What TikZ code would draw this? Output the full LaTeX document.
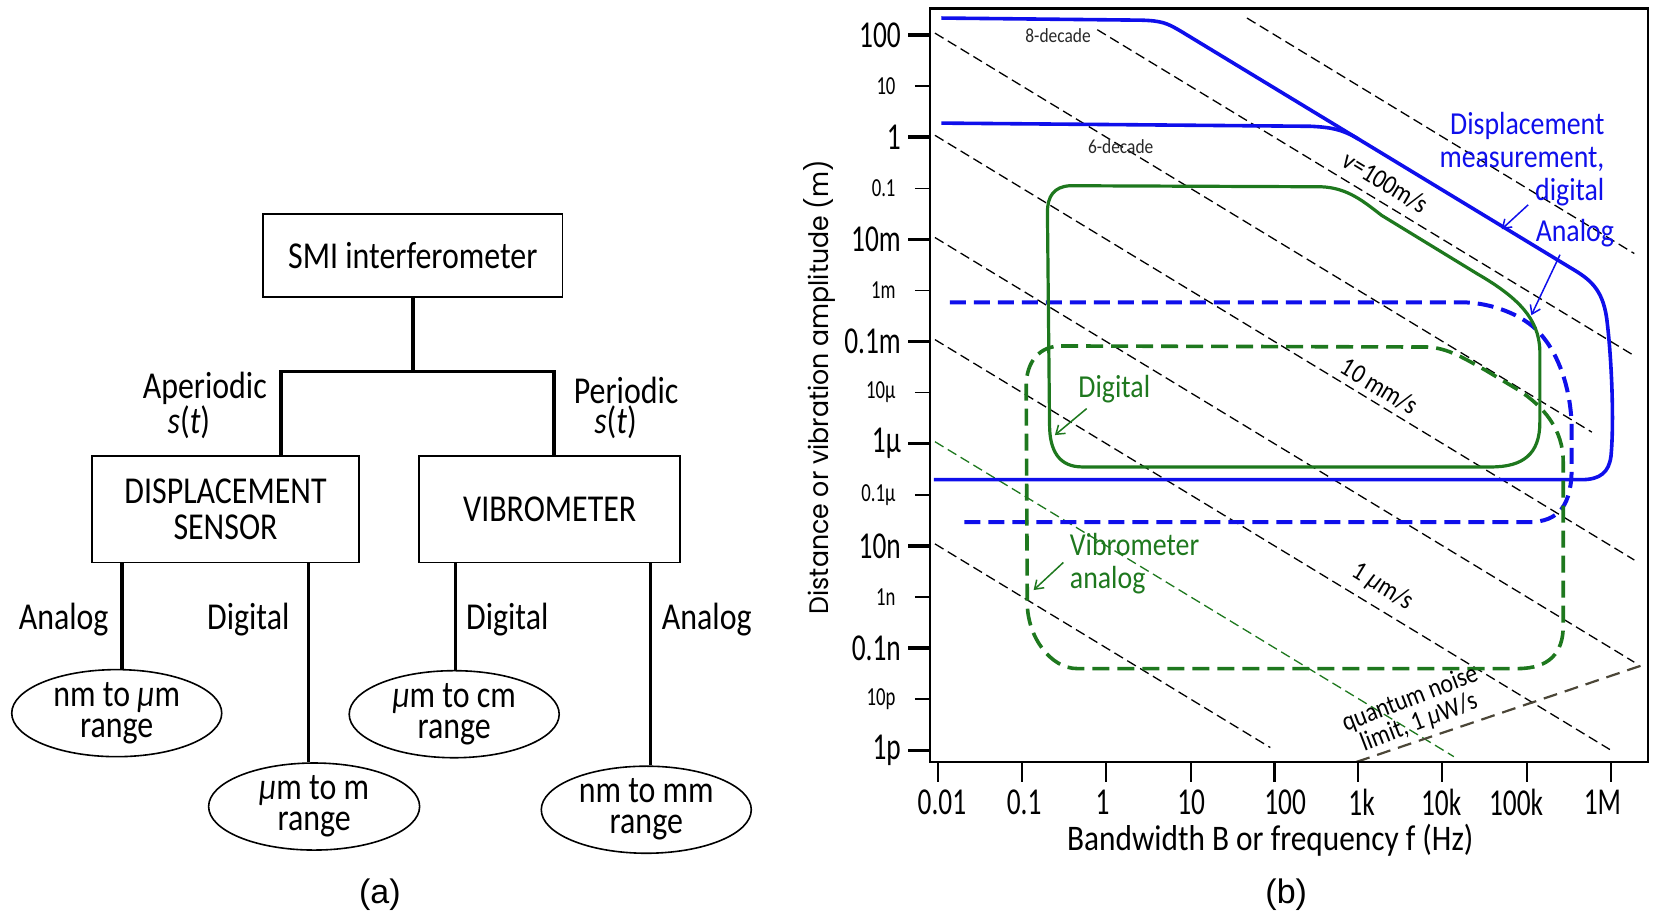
\documentclass[tikz,border=0pt]{standalone}
\usepackage{fontspec}
\usepackage{graphicx}
\usetikzlibrary{arrows.meta,shapes.geometric}
\newfontfamily\fcal[FakeStretch=0.87]{Carlito}
\newfontfamily\fcalt[FakeStretch=0.84]{Carlito}
\newfontfamily\fcalc[FakeStretch=0.72]{Carlito}
\newfontfamily\fpop{Poppins}
\newfontfamily\fari{Liberation Sans}
\definecolor{pblue}{RGB}{15,15,235}
\definecolor{pgreen}{RGB}{30,120,30}
\definecolor{qline}{RGB}{75,70,55}
\definecolor{dtxt}{RGB}{40,40,40}
\tikzset{
  box/.style={draw, line width=1.8pt, rectangle, inner sep=0pt, align=center,
    font=\fcalt\fontsize{38}{36}\selectfont},
  oval/.style={draw, line width=1.6pt, ellipse, inner sep=0pt, align=center,
    font=\fcalt\fontsize{38}{31}\selectfont},
  lab/.style={inner sep=0pt, align=center, font=\fcalt\fontsize{38}{34}\selectfont},
  trunk/.style={line width=3.6pt},
  leg/.style={line width=3.2pt},
  vline/.style={black, line width=1.3pt, dash pattern=on 10pt off 5pt},
  gthin/.style={pgreen, line width=1.3pt, dash pattern=on 10pt off 5pt},
  qdash/.style={qline, line width=2.2pt, dash pattern=on 14pt off 8pt},
  bsolid/.style={pblue, line width=3.6pt, line join=round},
  bdash/.style={pblue, line width=4pt, dash pattern=on 16pt off 8pt},
  gsolid/.style={pgreen, line width=3.2pt, line join=round},
  gdash/.style={pgreen, line width=3.6pt, dash pattern=on 17pt off 8pt},
  arr/.style={-{Straight Barb[length=8pt,width=11pt]}, line width=1.5pt},
  majtick/.style={line width=3.5pt},
  mintick/.style={line width=1.5pt},
  majlab/.style={anchor=east, inner sep=0pt, font=\fcalc\fontsize{38}{38}\selectfont},
  minlab/.style={anchor=east, inner sep=0pt, font=\fcalc\fontsize{26}{26}\selectfont},
  xlab/.style={inner sep=0pt, font=\fcalc\fontsize{38}{38}\selectfont},
  plab/.style={inner sep=0pt, align=center, font=\fcal\fontsize{32}{33}\selectfont},
  slab/.style={inner sep=0pt, align=center, font=\fcal\fontsize{27}{27}\selectfont},
  dec/.style={inner sep=0pt, text=dtxt, font=\fcal\fontsize{20}{20}\selectfont},
}
\begin{document}
\begin{tikzpicture}[x=1.0612pt,y=-1.0612pt]
\useasboundingbox (0,0) rectangle (1568,862);

% ================= (a) tree =================
\node[box, minimum width=299.3pt, minimum height=82.8pt] (smi) at (389,241) {SMI interferometer};
\node[box, minimum width=266.4pt, minimum height=106.1pt] (disp) at (212.5,480) {DISPLACEMENT\\SENSOR};
\node[box, minimum width=261pt, minimum height=106.1pt] (vib) at (518,480) {VIBROMETER};
\node[oval, minimum width=210pt, minimum height=72pt] (e1) at (110,672) {nm to {\itshape μ}m\\range};
\node[oval, minimum width=211pt, minimum height=78.5pt] (e2) at (296,760) {{\itshape μ}m to m\\range};
\node[oval, minimum width=210pt, minimum height=74.3pt] (e3) at (428,673) {{\itshape μ}m to cm\\range};
\node[oval, minimum width=210pt, minimum height=76.4pt] (e4) at (609,763) {nm to mm\\range};

\coordinate (jl) at (265,350);
\coordinate (jr) at (522,350);
\draw[trunk] (smi.south) -- (smi.south |- jl);
\draw[trunk] (disp.north -| jl) -- (jl) -- (jr) -- (vib.north -| jr);

\coordinate (l1) at (115,600);
\coordinate (l2) at (291,600);
\coordinate (l3) at (429,600);
\coordinate (l4) at (613,600);
\draw[leg] (disp.south -| l1) -- (e1.north -| l1);
\draw[leg] (disp.south -| l2) -- (e2.north -| l2);
\draw[leg] (vib.south -| l3) -- (e3.north -| l3);
\draw[leg] (vib.south -| l4) -- (e4.north -| l4);

\node[lab] (ape) at (193,366) {Aperiodic};
\node[lab] (st1) at (178,398) {{\itshape s}({\itshape t})};
\node[lab] (per) at (590,368) {Periodic};
\node[lab] (st2) at (580,398) {{\itshape s}({\itshape t})};
\node[lab] (an1) at (60,584) {Analog};
\node[lab] (di1) at (234,584) {Digital};
\node[lab] (di2) at (478,584) {Digital};
\node[lab] (an2) at (666,584) {Analog};

\node[inner sep=0pt, font=\fari\fontsize{34}{34}\selectfont] (capa) at (358,843) {(a)};

% ================= (b) plot =================
% constant velocity lines
\draw[vline] (1175,17) -- (1540,238.9);
\draw[vline] (1034,28) -- (1538,334);
\draw[vline] (881,31.2) -- (1500,407.2);
\draw[vline] (881,127.5) -- (1540,527.7);
\draw[vline] (881,223.8) -- (1540,624);
\draw[vline] (881,320) -- (1517,706.3);
\draw[gthin] (881,416.2) -- (1370,713);
\draw[vline] (881,512.5) -- (1197,704.4);
% quantum noise limit
\draw[qdash] (1278,718) -- (1553,625);

% blue digital displacement curves
\draw[bsolid] (887,17) -- (1075,19) .. controls (1095,19.5) and (1100,22) .. (1112,29)
  -- (1480,252.4) .. controls (1498,263) and (1510,272) .. (1514,300)
  .. controls (1519,340) and (1521,400) .. (1518,430)
  .. controls (1516,445) and (1508,452) .. (1490,452) -- (880,452);
\draw[bsolid] (887,116) -- (1235,119) .. controls (1255,120) and (1265,122) .. (1280,131);
% blue analog (dashed)
\draw[bdash] (895,285) -- (1382,285) .. controls (1405,286) and (1435,296) .. (1451,314)
  .. controls (1470,335) and (1481,370) .. (1481,405) -- (1481,440)
  .. controls (1481,475) and (1470,492) .. (1440,492) -- (905,492);

% green digital vibrometer
\draw[gsolid] (1008,175) -- (1245,176) .. controls (1270,177) and (1285,190) .. (1302,203)
  -- (1392,258) .. controls (1430,280) and (1450,300) .. (1451,330)
  -- (1451,398) .. controls (1451,428) and (1435,440) .. (1405,440)
  -- (1020,440) .. controls (998,440) and (989,425) .. (989,400)
  -- (987,200) .. controls (987,185) and (993,176) .. (1008,175) -- cycle;
% green analog vibrometer (dashed)
\draw[gdash] (1000,326) -- (1345,327) .. controls (1365,328) and (1380,338) .. (1400,349)
  -- (1430,367) .. controls (1455,383) and (1473,405) .. (1473,435) -- (1473,590)
  .. controls (1473,615) and (1460,630) .. (1430,630) -- (1015,630)
  .. controls (990,630) and (968,600) .. (968,568) -- (967,364)
  .. controls (967,340) and (980,326) .. (1000,326);

% frame
\draw[line width=2.2pt] (876,8) rectangle (1553,718);

% y ticks
\foreach \i/\t in {0/100,2/1,4/10m,6/0.1m,8/1μ,10/10n,12/0.1n,14/1p}{
  \pgfmathsetmacro\yy{33+48.14*\i}
  \draw[majtick] (856,\yy) -- (876,\yy);
  \node[majlab] (ymaj\i) at (849,\yy) {\t};
}
\foreach \i/\t in {1/10,3/0.1,5/1m,7/10μ,9/0.1μ,11/1n,13/10p}{
  \pgfmathsetmacro\yy{33+48.14*\i}
  \draw[mintick] (862,\yy) -- (876,\yy);
  \node[minlab] (ymin\i) at (844,\yy) {\t};
}
% x ticks
\foreach \j/\xt/\xl/\t in {0/884/887.6/0.01,1/963/965/0.1,2/1042/1039/1,3/1122/1122.5/10,
  4/1201/1211/100,5/1280/1283/1k,6/1359/1358/10k,7/1439/1428.6/100k,8/1518/1510/1M}{
  \draw[line width=2.2pt] (\xt,718) -- (\xt,737);
  \node[xlab] (xl\j) at (\xl,756) {\t};
}

% axis labels
\node[rotate=90, inner sep=0pt] (ylab) at (772,365)
  {\resizebox{454pt}{25pt}{\fpop Distance or vibration amplitude (m)}};
\node[inner sep=0pt, font=\fcal\fontsize{36}{36}\selectfont] (xlabel) at (1197,792)
  {Bandwidth B or frequency f (Hz)};
\node[inner sep=0pt, font=\fari\fontsize{34}{34}\selectfont] (capb) at (1212,843) {(b)};

% curve annotations
\node[dec] (d8) at (997,34) {8-decade};
\node[dec] (d6) at (1056,138) {6-decade};
\node[slab, rotate=-31.3] (v100) at (1306,172) {v=100m/s};
\node[slab, rotate=-31.3] (v10) at (1300,364) {10 mm/s};
\node[slab, rotate=-31.3] (v1) at (1303,553) {1 {\itshape μ}m/s};
\node[inner sep=0pt, align=center, rotate=21, font=\fcal\fontsize{27}{25}\selectfont] (qn) at (1333,670)
  {quantum noise\\limit, 1 {\itshape μ}W/s};

\node[plab, text=pblue, align=right, anchor=east] (dmd) at (1512,150)
  {Displacement\\measurement,\\digital};
\node[plab, text=pblue] (ban) at (1484,220) {Analog};
\node[plab, text=pgreen] (gdi) at (1050,367) {Digital};
\node[plab, text=pgreen, align=left, anchor=west] (gva) at (1008,531) {Vibrometer\\analog};

\coordinate (ab1) at (1415,216);
\coordinate (ab2) at (1443,297);
\coordinate (ag1) at (994,410);
\coordinate (ag2) at (974,556);
\draw[arr, pblue] (1440,193) -- (ab1);
\draw[arr, pblue] (1470,240) -- (ab2);
\draw[arr, pgreen] (1024,385) -- (ag1);
\draw[arr, pgreen] (1002,530) -- (ag2);
\end{tikzpicture}
\end{document}
